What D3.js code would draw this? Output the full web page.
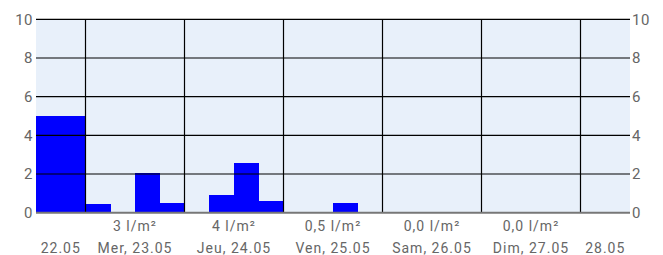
<!DOCTYPE html>
<html><head><meta charset="utf-8">
<script src="https://cdn.jsdelivr.net/npm/d3@7"></script>
<style>
html,body{margin:0;padding:0;background:#fff;}
svg{display:block;}
text{font-family:Roboto,sans-serif;font-size:14px;fill:#666;letter-spacing:1px;}
</style></head>
<body><svg id="c" width="663" height="255"></svg>
<script>
// 6-hour precipitation slots starting 22.05 12:00 (UTC)
const slotStarts = [
  "2018-05-22T12:00Z","2018-05-22T18:00Z",
  "2018-05-23T00:00Z","2018-05-23T06:00Z","2018-05-23T12:00Z","2018-05-23T18:00Z",
  "2018-05-24T00:00Z","2018-05-24T06:00Z","2018-05-24T12:00Z","2018-05-24T18:00Z",
  "2018-05-25T00:00Z","2018-05-25T06:00Z","2018-05-25T12:00Z","2018-05-25T18:00Z",
  "2018-05-26T00:00Z","2018-05-26T06:00Z","2018-05-26T12:00Z","2018-05-26T18:00Z",
  "2018-05-27T00:00Z","2018-05-27T06:00Z","2018-05-27T12:00Z","2018-05-27T18:00Z",
  "2018-05-28T00:00Z","2018-05-28T06:00Z"
];
const precip = [
  5.0, 5.0,
  0.45, 0, 2.05, 0.52,
  0, 0.9, 2.55, 0.6,
  0, 0, 0.5, 0,
  0, 0, 0, 0,
  0, 0, 0, 0,
  0, 0
];
const dayBoundaries = ["2018-05-23T00:00Z","2018-05-24T00:00Z","2018-05-25T00:00Z","2018-05-26T00:00Z","2018-05-27T00:00Z","2018-05-28T00:00Z"];
const dayLabels = ["22.05","Mer, 23.05","Jeu, 24.05","Ven, 25.05","Sam, 26.05","Dim, 27.05","28.05"];
const dayTotals = ["","3 l/m²","4 l/m²","0,5 l/m²","0,0 l/m²","0,0 l/m²",""];
const yTicks = [0,2,4,6,8,10];

const domainStart = new Date("2018-05-22T12:00Z");
const domainEnd = new Date("2018-05-28T12:00Z");
const SLOT = 6*3600*1000;

const svg = d3.select("#c");
const x = d3.scaleTime().domain([domainStart, domainEnd]).range([36, 630]);
const y = d3.scaleLinear().domain([0,10]).range([212.7, 19.3]);

// background
svg.append("rect").attr("x",x(domainStart)).attr("y",y(10))
  .attr("width",x(domainEnd)-x(domainStart)).attr("height",y(0)-y(10)).attr("fill","#e8f0fa");

// bars
svg.append("g").attr("shape-rendering","crispEdges").selectAll("rect")
  .data(precip.map((v,i)=>({t:new Date(slotStarts[i]),v})).filter(d=>d.v>0))
  .join("rect")
  .attr("x",d=>x(d.t)).attr("width",d=>x(new Date(+d.t+SLOT))-x(d.t)+0.5)
  .attr("y",d=>y(d.v)).attr("height",d=>y(0)-y(d.v)).attr("fill","#0000ff");

// horizontal grid
svg.append("g").selectAll("line").data(yTicks.filter(t=>t>0)).join("line")
  .attr("x1",x(domainStart)).attr("x2",x(domainEnd))
  .attr("y1",d=>y(d)).attr("y2",d=>y(d)).attr("stroke","#000").attr("stroke-width",1.2);

// vertical day lines
svg.append("g").selectAll("line").data(dayBoundaries.map(s=>new Date(s))).join("line")
  .attr("x1",d=>x(d)).attr("x2",d=>x(d)).attr("y1",y(10)).attr("y2",y(0))
  .attr("stroke","#000").attr("stroke-width",1.2);

// bottom axis line
svg.append("line").attr("x1",x(domainStart)).attr("x2",x(domainEnd))
  .attr("y1",y(0)).attr("y2",y(0)).attr("stroke","#777").attr("stroke-width",2);

// y axis labels left & right
const left = d3.axisLeft(y).tickValues(yTicks).tickSize(0).tickPadding(3);
const gl = svg.append("g").attr("transform",`translate(${x(domainStart)},0)`).call(left);
gl.select(".domain").remove();
const right = d3.axisRight(y).tickValues(yTicks).tickSize(0).tickPadding(2);
const gr = svg.append("g").attr("transform",`translate(${x(domainEnd)},0)`).call(right);
gr.select(".domain").remove();
svg.selectAll(".tick text").attr("fill","#666").style("font-size","15px").style("font-family","Roboto").style("letter-spacing","0.5px");

// day label centers
const edges = [domainStart, ...dayBoundaries.map(s=>new Date(s)), domainEnd];
const centers = dayLabels.map((l,i)=>(x(edges[i])+x(edges[i+1]))/2);

svg.append("g").selectAll("text").data(dayLabels).join("text")
  .attr("x",(d,i)=>centers[i]).attr("y",252.5).attr("text-anchor","middle").text(d=>d);
svg.append("g").selectAll("text").data(dayTotals).join("text")
  .attr("x",(d,i)=>centers[i]).attr("y",231).attr("text-anchor","middle").text(d=>d);
</script></body></html>
